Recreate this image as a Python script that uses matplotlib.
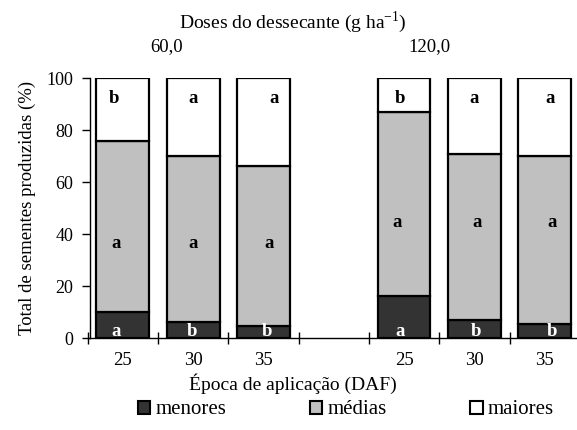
import matplotlib
matplotlib.use("Agg")
import matplotlib.pyplot as plt
from matplotlib.patches import Patch

plt.rcParams['font.family'] = ['Liberation Serif', 'DejaVu Serif']
plt.rcParams['mathtext.fontset'] = 'custom'
plt.rcParams['mathtext.rm'] = 'Liberation Serif'

categories = ['25', '30', '35', '', '25', '30', '35']
menores = [10.1, 6.1, 4.7, 0, 16.3, 6.9, 5.4]
medias = [65.7, 63.9, 61.6, 0, 70.5, 63.9, 64.6]
maiores = [24.2, 30.0, 33.7, 0, 13.2, 29.2, 30.0]
present = [True, True, True, False, True, True, True]

letters_menores = ['a', 'b', 'b', '', 'a', 'b', 'b']
letters_medias = ['a', 'a', 'a', '', 'a', 'a', 'a']
letters_maiores = ['b', 'a', 'a', '', 'b', 'a', 'a']

series_names = ['menores', 'médias', 'maiores']
colors = ['#333333', '#c0c0c0', '#ffffff']

title = 'Doses do dessecante (g ha$^{\\mathrm{-1}}$)'
groups = ['60,0', '120,0']
ylabel = 'Total de sementes produzidas (%)'
xlabel = 'Época de aplicação (DAF)'

# label layout (not data)
x_off_top = [-0.13, 0.0, 0.15, 0, -0.06, 0.0, 0.08]
x_off_mid = [-0.10, 0.0, 0.08, 0, -0.10, 0.04, 0.11]
x_off_bot = [-0.10, -0.02, 0.05, 0, -0.06, 0.02, 0.11]
y_mid = [36.5, 36.5, 36.5, 0, 44.6, 44.6, 44.6]

fig = plt.figure(figsize=(5.77, 4.30), dpi=100)
ax = fig.add_axes([0.152, 0.2133, 0.853, 0.6053])

x = list(range(len(categories)))
xb = [i for i in x if present[i]]
m = [menores[i] for i in xb]
md = [medias[i] for i in xb]
mx = [maiores[i] for i in xb]
w = 0.75
lw = 1.6
ax.bar(xb, m, w, color=colors[0], edgecolor='black', linewidth=lw, zorder=3)
ax.bar(xb, md, w, bottom=m, color=colors[1], edgecolor='black', linewidth=lw, zorder=3)
ax.bar(xb, mx, w, bottom=[a + b for a, b in zip(m, md)], color=colors[2],
       edgecolor='black', linewidth=lw, zorder=3)

for i in xb:
    ax.text(i + x_off_bot[i], 2.6, letters_menores[i], color='white', fontweight='bold',
            ha='center', va='center', fontsize=13.5, zorder=4)
    ax.text(i + x_off_mid[i], y_mid[i], letters_medias[i], color='black', fontweight='bold',
            ha='center', va='center', fontsize=13.5, zorder=4)
    ax.text(i + x_off_top[i], 92, letters_maiores[i], color='black', fontweight='bold',
            ha='center', va='center', fontsize=13.5, zorder=4)

ax.set_xlim(-0.5, 6.5)
ax.set_ylim(0, 100)
ax.set_yticks([0, 20, 40, 60, 80, 100])
ax.tick_params(axis='y', labelsize=13, direction='out', length=6, width=1, pad=6)
ax.set_xticks(x)
ax.set_xticklabels(categories)
ax.tick_params(axis='x', which='major', length=0, labelsize=13.5, pad=10)
ax.set_xticks([i - 0.5 for i in range(8)], minor=True)
ax.tick_params(axis='x', which='minor', direction='inout', length=9, width=1)
for s in ['top', 'right']:
    ax.spines[s].set_visible(False)
ax.spines['left'].set_linewidth(1)
ax.spines['bottom'].set_linewidth(1)
ax.spines['left'].set_position(('axes', 0.005))

ax.set_ylabel(ylabel, fontsize=13.5, labelpad=8)
fig.text(293 / 577, 1 - 384 / 430, xlabel, ha='center', va='center', fontsize=14)
fig.text(293 / 577, 1 - 22 / 430, title, ha='center', va='center', fontsize=14)
fig.text(167 / 577, 1 - 47 / 430, groups[0], ha='center', va='center', fontsize=13.5)
fig.text(429 / 577, 1 - 47 / 430, groups[1], ha='center', va='center', fontsize=13.5)

handles = [Patch(facecolor=c, edgecolor='black', linewidth=1.5, label=n)
           for c, n in zip(colors, series_names)]
fig.legend(handles=handles, loc='center', bbox_to_anchor=(346 / 577, 1 - 410 / 430),
           ncol=3, frameon=False, prop={'family': 'Liberation Serif', 'size': 15},
           handlelength=0.6, handleheight=0.6,
           handletextpad=0.25, columnspacing=4.0)

fig.savefig('out.png', dpi=100)
